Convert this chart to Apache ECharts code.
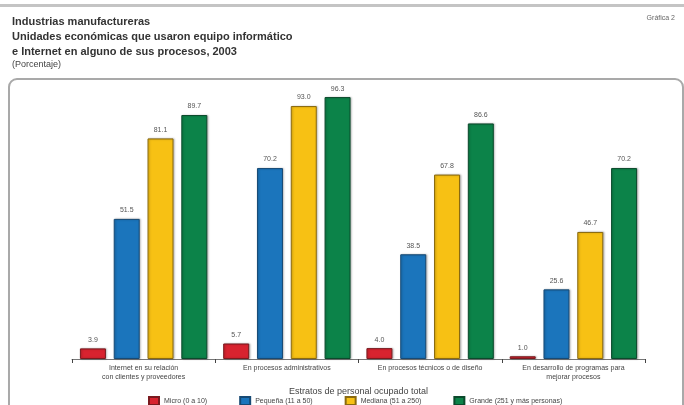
<!DOCTYPE html>
<html>
<head>
<meta charset="utf-8">
<script src="https://cdn.jsdelivr.net/npm/echarts@6/dist/echarts.min.js"></script>
<style>
  html, body { margin: 0; padding: 0; background: #fff; }
  #chart { width: 684px; height: 405px; }
</style>
</head>
<body>
<div id="chart"></div>
<script>
// Usos del equipo informático e Internet (categorías del eje)
const categories = [
  'Internet en su relación\ncon clientes y proveedores',
  'En procesos administrativos',
  'En procesos técnicos o de diseño',
  'En desarrollo de programas para\nmejorar procesos'
];

// Estratos de personal ocupado total
const strata = [
  'Micro (0 a 10)',
  'Pequeña (11 a 50)',
  'Mediana (51 a 250)',
  'Grande (251 y más personas)'
];

// Porcentaje de unidades económicas por estrato
const micro = [3.9, 5.7, 4.0, 1.0];
const pequena = [51.5, 70.2, 38.5, 25.6];
const mediana = [81.1, 93.0, 67.8, 46.7];
const grande = [89.7, 96.3, 86.6, 70.2];

const seriesValues = [micro, pequena, mediana, grande];
const fills = ['#d8232f', '#1b75bc', '#f7c114', '#0c8349'];
const edges = ['#7a1a1f', '#174a75', '#8a6a10', '#0b4a2c'];

const fontFamily = '"Liberation Sans", Arial, sans-serif';

const chart = echarts.init(document.getElementById('chart'), null, { renderer: 'canvas' });

chart.setOption({
  backgroundColor: '#ffffff',
  animation: false,
  textStyle: { fontFamily },
  title: [
    {
      text: 'Industrias manufactureras\nUnidades económicas que usaron equipo informático\ne Internet en alguno de sus procesos, 2003',
      left: 7, top: 9,
      textStyle: { fontSize: 11, fontWeight: 'bold', color: '#333', lineHeight: 15, fontFamily }
    },
    {
      text: '(Porcentaje)',
      left: 7, top: 55,
      textStyle: { fontSize: 9, fontWeight: 'normal', color: '#444', fontFamily }
    },
    {
      text: 'Gráfica 2',
      right: 4, top: 10,
      textStyle: { fontSize: 7, fontWeight: 'normal', color: '#666', fontFamily }
    }
  ],
  graphic: [
    {
      type: 'rect',
      shape: { x: 0, y: 4, width: 684, height: 3 },
      style: { fill: '#c4c4c4' },
      z: -1
    },
    {
      type: 'rect',
      shape: { x: 9, y: 79, width: 674, height: 340, r: 8 },
      style: { fill: 'none', stroke: '#a9a9a9', lineWidth: 2 },
      z: -1
    }
  ],
  legend: {
    top: 396,
    left: 148,
    itemWidth: 10,
    itemHeight: 8,
    itemGap: 32,
    icon: 'rect',
    padding: 0,
    data: strata,
    textStyle: { fontSize: 7, color: '#444', fontFamily }
  },
  grid: { left: 72, right: 39, top: 87, bottom: 46 },
  xAxis: {
    type: 'category',
    data: categories,
    name: 'Estratos de personal ocupado total',
    nameLocation: 'middle',
    nameGap: 23,
    nameTextStyle: { fontSize: 9, color: '#444', fontFamily },
    axisLine: { lineStyle: { color: '#777', width: 1 } },
    axisTick: { show: true, length: 4, lineStyle: { color: '#444' } },
    axisLabel: { fontSize: 7, color: '#444', lineHeight: 9, margin: 5, interval: 0 }
  },
  yAxis: {
    type: 'value',
    min: 0,
    max: 100,
    show: false,
    splitLine: { show: false }
  },
  series: seriesValues.map((vals, i) => ({
    name: strata[i],
    type: 'bar',
    data: vals,
    barWidth: 26,
    barGap: '30%',
    barCategoryGap: '10%',
    itemStyle: {
      color: fills[i],
      borderColor: edges[i],
      borderWidth: 1,
      shadowColor: 'rgba(0,0,0,0.25)',
      shadowBlur: 2,
      shadowOffsetX: 1
    },
    label: {
      show: true,
      position: 'top',
      distance: 5,
      fontSize: 7,
      color: '#555',
      formatter: p => p.value.toFixed(1)
    }
  }))
});
</script>
</body>
</html>
